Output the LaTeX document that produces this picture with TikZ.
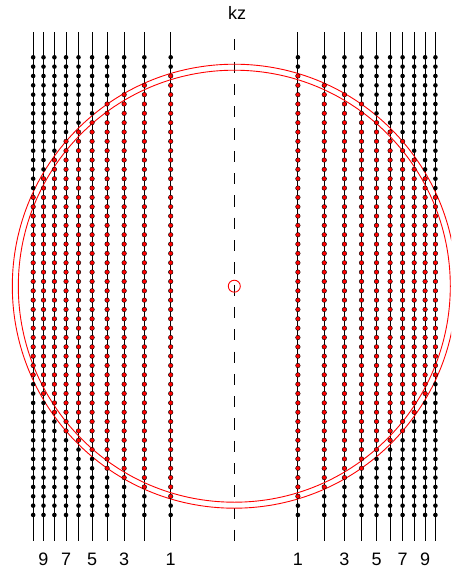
\documentclass[tikz,border=0pt]{standalone}
\usepackage{fontspec}
\setmainfont{Liberation Sans}
\begin{document}
\begin{tikzpicture}[x=1pt,y=-1pt,
  lvl/.style={line width=1pt, black},
  axisline/.style={line width=1pt, black, dash pattern=on 11.2pt off 11.1pt},
  fsurf/.style={red, line width=0.9pt},
  reddot/.style={fill=red, draw=black, line width=0.4pt},
  blackdot/.style={fill=black},
  lab/.style={font=\fontsize{18}{20}\selectfont, anchor=base, inner sep=0pt}]
\useasboundingbox (0,0) rectangle (451,572);
\clip (0,0) rectangle (451,572);
\coordinate (O) at (234.3,286.2);
\coordinate (axtop) at (234.3,39.3);
\coordinate (axbot) at (234.3,540.7);
% kz axis
\draw[axisline] (axtop) -- (axbot);
\node[lab] (kz) at (237,19.3) {kz};
% Landau level lines
\foreach \n in {1,...,10} {
  \pgfmathsetmacro\dx{63.6*sqrt(\n)}
  \foreach \s in {-1,1} {
    \pgfmathsetmacro\xx{234.3+\s*\dx}
    \draw[lvl] (\xx,32.3) -- (\xx,540.7);
  }
}
% Fermi surfaces
\draw[fsurf] (O) circle (222);
\draw[fsurf] (O) circle (216);
\draw[fsurf] (O) circle (6);
% states
\foreach \n/\m in {1/22.5,2/21.5,3/20.5,4/19.5,5/17.5,6/16.5,7/15.5,8/13.5,9/11.5,10/9.5} {
  \pgfmathsetmacro\dx{63.6*sqrt(\n)}
  \foreach \s in {-1,1} {
    \pgfmathsetmacro\xx{234.3+\s*\dx}
    \foreach \k in {0,...,49} {
      \pgfmathsetmacro\yy{57.3+9.34*\k}
      \pgfmathtruncatemacro\isred{abs(\k-24.5)<=\m ? 1 : 0}
      \ifnum\isred=1
        \path[reddot] (\xx,\yy) circle (2.3);
      \else
        \path[blackdot] (\xx,\yy) circle (2.3);
      \fi
    }
  }
}
% labels
\foreach \n in {1,3,5,7,9} {
  \pgfmathsetmacro\dx{63.6*sqrt(\n)}
  \node[lab] (labL\n) at (234.3-\dx,565) {\n};
  \node[lab] (labR\n) at (234.3+\dx,565) {\n};
}
\end{tikzpicture}
\end{document}
